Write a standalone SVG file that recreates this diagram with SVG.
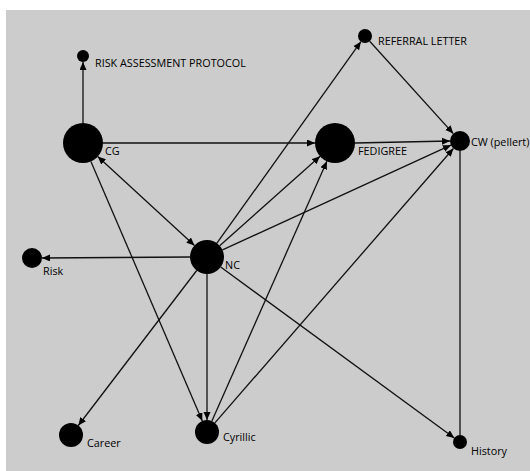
<svg xmlns="http://www.w3.org/2000/svg" width="530" height="471" viewBox="0 0 530 471">
<style>
.n{fill:#000}
.e{stroke:#111;stroke-width:1.3;fill:none}
.a{marker-end:url(#ah)}
.b{marker-start:url(#ah);marker-end:url(#ah)}
text{font-family:"Open Sans","Noto Sans","DejaVu Sans",sans-serif;font-size:10.8px;fill:#000}
</style>
<defs>
<marker id="ah" markerUnits="userSpaceOnUse" markerWidth="9" markerHeight="8" refX="8" refY="3.5" orient="auto-start-reverse">
<path d="M0,0 L8,3.5 L0,7 z" fill="#000"/>
</marker>
</defs>
<rect x="6" y="10" width="524" height="461" fill="#cccccc"/>
<g id="connectors">
<line class="e a" x1="83" y1="123" x2="83" y2="62"/>
<line class="e a" x1="103" y1="143" x2="315" y2="143"/>
<line class="e a" x1="355" y1="143" x2="450" y2="141"/>
<line class="e b" x1="97.7" y1="156.5" x2="194.5" y2="245.5"/>
<line class="e a" x1="90.9" y1="161.4" x2="202.3" y2="421"/>
<line class="e a" x1="216.9" y1="243.2" x2="360.9" y2="41.7"/>
<line class="e a" x1="369.7" y1="41.2" x2="453.3" y2="133.6"/>
<line class="e a" x1="219.7" y1="245.7" x2="320.1" y2="156.3"/>
<line class="e a" x1="211.9" y1="421" x2="326.9" y2="161.3"/>
<line class="e a" x1="222.5" y1="249.9" x2="450.9" y2="145.2"/>
<line class="e a" x1="214.9" y1="422.9" x2="453.4" y2="148.5"/>
<line class="e a" x1="190" y1="257" x2="42" y2="258"/>
<line class="e a" x1="196.7" y1="270.5" x2="78.3" y2="425.5"/>
<line class="e a" x1="207" y1="274" x2="207" y2="420"/>
<line class="e a" x1="220.7" y1="267" x2="454.3" y2="437.9"/>
<line class="e" x1="460" y1="151" x2="460" y2="435"/>
</g>
<g id="rap"><circle class="n" cx="83" cy="56" r="6"/><text x="95" y="67">RISK ASSESSMENT PROTOCOL</text></g>
<g id="cg"><circle class="n" cx="83" cy="143" r="20"/><text x="105" y="155">CG</text></g>
<g id="fedigree"><circle class="n" cx="335" cy="143" r="20"/><text x="358" y="155">FEDIGREE</text></g>
<g id="cw"><circle class="n" cx="460" cy="141" r="10"/><text x="471" y="146">CW (pellert)</text></g>
<g id="referral"><circle class="n" cx="365" cy="36" r="7"/><text x="378" y="45">REFERRAL LETTER</text></g>
<g id="nc"><circle class="n" cx="207" cy="257" r="17"/><text x="225" y="269">NC</text></g>
<g id="risk"><circle class="n" cx="32" cy="258" r="10"/><text x="43" y="275">Risk</text></g>
<g id="career"><circle class="n" cx="71" cy="435" r="12"/><text x="87" y="447">Career</text></g>
<g id="cyrillic"><circle class="n" cx="207" cy="432" r="12"/><text x="223" y="441">Cyrillic</text></g>
<g id="history"><circle class="n" cx="460" cy="442" r="7"/><text x="471" y="455">History</text></g>
</svg>
